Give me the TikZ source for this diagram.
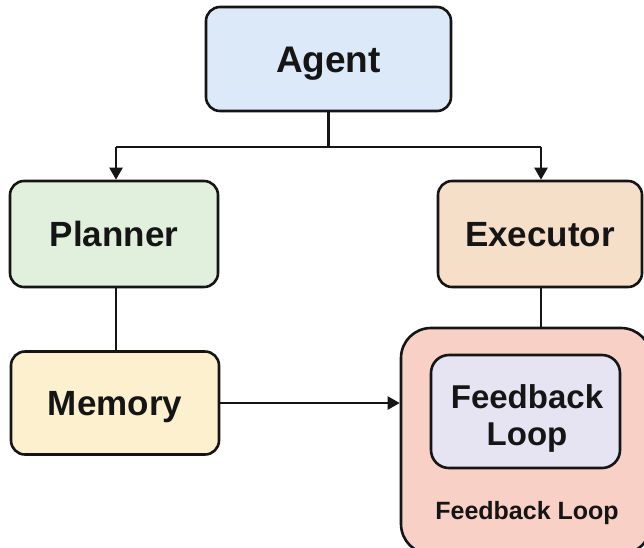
\documentclass[tikz,border=0pt]{standalone}
\usepackage{fontspec}
\setmainfont{Liberation Sans}
\usetikzlibrary{arrows.meta}
\definecolor{agentfill}{HTML}{DCE9F8}
\definecolor{plannerfill}{HTML}{E0F0DC}
\definecolor{executorfill}{HTML}{F5DFC8}
\definecolor{memoryfill}{HTML}{FCF0CF}
\definecolor{outerfill}{HTML}{F8D0C6}
\definecolor{innerfill}{HTML}{E6E4F3}
\definecolor{ink}{HTML}{151515}
\tikzset{
  box/.style={draw=ink, line width=2.6pt, rounded corners=14pt, inner sep=0pt,
    font=\fontsize{35}{40}\selectfont\bfseries, text=ink,
    text height=25pt, text depth=0pt},
  link/.style={draw=ink, line width=2.2pt},
  arr/.style={link, -{Triangle[length=12pt,width=13pt]}},
}
\begin{document}
\begin{tikzpicture}[x=1pt,y=-1pt]
  \useasboundingbox (0,0) rectangle (644,547);
  \fill[white] (0,0) rectangle (644,547);
  \clip (0,0) rectangle (644,547);

  % main boxes
  \node[box, fill=agentfill, minimum width=245pt, minimum height=104pt,
        font=\fontsize{37}{40}\selectfont\bfseries, text height=26.5pt] (agent) at (328.5,59) {Agent};
  \node[box, fill=plannerfill, minimum width=208pt, minimum height=106pt] (planner) at (114,234) {Planner};
  \node[box, fill=executorfill, minimum width=204pt, minimum height=106pt] (executor) at (540,234) {Executor};
  \node[box, fill=memoryfill, minimum width=208pt, minimum height=103pt] (memory) at (115,403) {Memory};

  % feedback container and its inner box
  \node[box, fill=outerfill, rounded corners=30pt, minimum width=250pt, minimum height=226pt] (outer) at (526,441) {};
  \node[box, fill=innerfill, rounded corners=18pt, minimum width=189pt, minimum height=113pt] (inner) at (525.5,411.5) {};
  \node[font=\fontsize{33}{37}\selectfont\bfseries, text=ink, align=center,
        inner sep=0pt] (innerlabel) at (527,418) {Feedback\\Loop};
  \node[font=\fontsize{25}{28}\selectfont\bfseries, text=ink] (outerlabel) at (527,513.5) {Feedback Loop};

  % connectors
  \coordinate (split) at (328.5,147);
  \coordinate (lefttop) at (116,147);
  \coordinate (righttop) at (541,147);
  \draw[link] (agent.south) -- (split);
  \draw[link] (lefttop) -- (righttop);
  \draw[arr] (lefttop) -- (planner.north -| lefttop);
  \draw[arr] (righttop) -- (executor.north -| righttop);
  \draw[link] (planner.south -| lefttop) -- (memory.north -| lefttop);
  \draw[link] (executor.south -| righttop) -- (outer.north -| righttop);
  \draw[arr] (memory.east) -- (outer.west |- memory.east);
\end{tikzpicture}
\end{document}
